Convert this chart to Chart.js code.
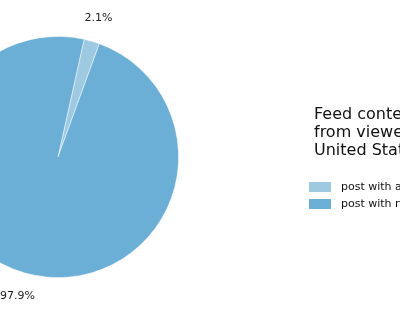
<!DOCTYPE html>
<html>
<head>
<meta charset="utf-8">
<script src="https://cdn.jsdelivr.net/npm/chart.js@4"></script>
<style>
  html, body { margin: 0; padding: 0; background: #fff; overflow: hidden; }
  #wrap { position: absolute; left: -100px; top: 0; width: 600px; height: 316px; }
</style>
</head>
<body>
<div id="wrap"><canvas id="pieChart"></canvas></div>
<script>
const labels = ['post with ads', 'post with no ads'];
const shares = [2.1, 97.9];
const colors = ['#9ecae1', '#6baed6'];
const legendTitle = ['Feed content', 'from viewers in', 'United States'];

const FONT = '"DejaVu Sans", sans-serif';
const OFFSET = 100; // canvas starts 100px left of the page

// percent labels just outside the pie
const pctLabels = {
  id: 'pctLabels',
  afterDatasetsDraw(chart) {
    const c = chart.ctx;
    const meta = chart.getDatasetMeta(0);
    c.save();
    c.font = '11px ' + FONT;
    c.fillStyle = '#222';
    c.textAlign = 'center';
    c.textBaseline = 'middle';
    meta.data.forEach((arc, i) => {
      const mid = (arc.startAngle + arc.endAngle) / 2;
      const r = arc.outerRadius * 1.2;
      c.fillText(shares[i].toFixed(1) + '%', arc.x + Math.cos(mid) * r, arc.y + Math.sin(mid) * r);
    });
    c.restore();
  }
};

// legend drawn at the right side
const sideLegend = {
  id: 'sideLegend',
  afterDraw(chart) {
    const c = chart.ctx;
    c.save();
    c.fillStyle = '#111';
    c.font = '16px ' + FONT;
    c.textBaseline = 'middle';
    legendTitle.forEach((t, i) => c.fillText(t, 314 + OFFSET, 115 + i * 18));
    c.font = '11px ' + FONT;
    labels.forEach((l, i) => {
      const y = 187 + i * 17;
      c.fillStyle = colors[i];
      c.fillRect(309 + OFFSET, y - 5, 22, 10);
      c.fillStyle = '#111';
      c.fillText(l, 341 + OFFSET, y);
    });
    c.restore();
  }
};

const ctx = document.getElementById('pieChart').getContext('2d');
const chart = new Chart(ctx, {
  type: 'pie',
  data: {
    labels: labels,
    datasets: [{
      data: shares,
      backgroundColor: colors,
      borderColor: 'rgba(255,255,255,0.6)',
      borderWidth: 0.8
    }]
  },
  options: {
    responsive: true,
    maintainAspectRatio: false,
    animation: false,
    rotation: 12.5,
    layout: { padding: { left: 37, top: 36, right: 321, bottom: 38 } },
    plugins: {
      legend: { display: false },
      tooltip: { enabled: false }
    }
  },
  plugins: [pctLabels, sideLegend]
});
</script>
</body>
</html>
